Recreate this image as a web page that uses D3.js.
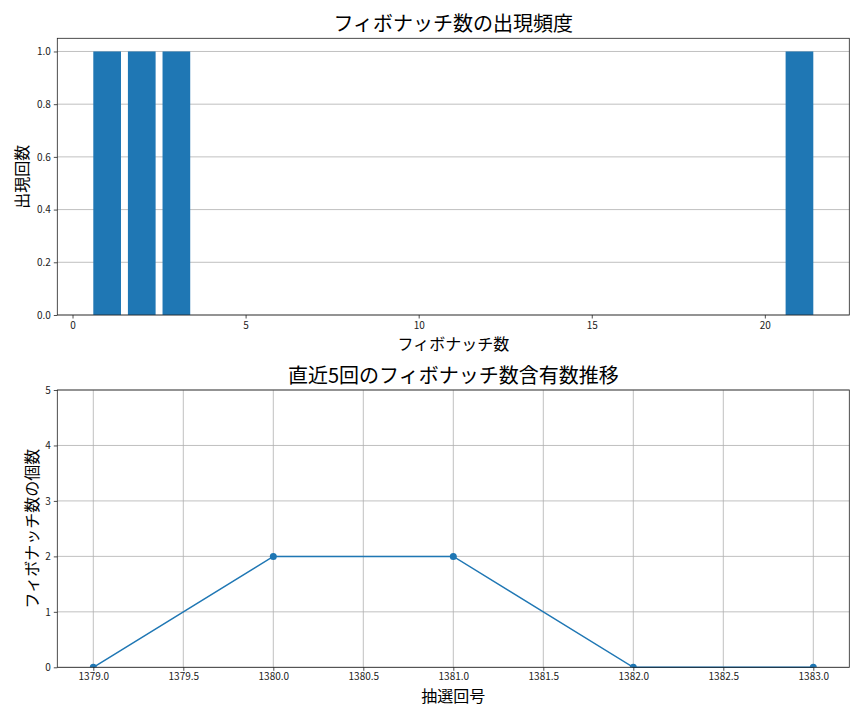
<!DOCTYPE html>
<html>
<head>
<meta charset="utf-8">
<script src="https://cdn.jsdelivr.net/npm/d3@7"></script>
<style>
  body { margin: 0; background: #fff; }
  text { font-family: "Noto Sans CJK JP", "Noto Sans", sans-serif; }
</style>
</head>
<body>
<svg width="864" height="720"></svg>
<script>
// top chart: fibonacci numbers and how often they appeared
var fibNumbers = [1, 2, 3, 21];
var fibCounts = [1, 1, 1, 1];
var barTicks = [0, 5, 10, 15, 20];
var countTicks = [0, 0.2, 0.4, 0.6, 0.8, 1.0];

// bottom chart: last 5 draws
var drawNumbers = [1379, 1380, 1381, 1382, 1383];
var fibPerDraw = [0, 2, 2, 0, 0];
var drawTicks = [1379, 1379.5, 1380, 1380.5, 1381, 1381.5, 1382, 1382.5, 1383];
var perDrawTicks = [0, 1, 2, 3, 4, 5];

var blue = "#1f77b4";
var svg = d3.select("svg");

var left = 57.3, right = 849.3;

// ---------- top ----------
var t = { top: 38.3, bottom: 315 };
var x1 = d3.scaleLinear().domain([-0.44, 22.44]).range([left, right]);
var y1 = d3.scaleLinear().domain([0, 1.05]).range([t.bottom, t.top]);

var g1 = svg.append("g");

g1.selectAll("line.grid")
	.data(countTicks)
	.enter()
	.append("line")
	.attr("class", "grid")
	.attr("x1", left).attr("x2", right)
	.attr("y1", d => y1(d)).attr("y2", d => y1(d))
	.style("stroke", "#b0b0b0").style("stroke-width", 0.8);

g1.selectAll("rect.bar")
	.data(fibNumbers)
	.enter()
	.append("rect")
	.attr("class", "bar")
	.attr("x", d => x1(d - 0.4))
	.attr("width", d => x1(d + 0.4) - x1(d - 0.4))
	.attr("y", (d, i) => y1(fibCounts[i]))
	.attr("height", (d, i) => y1(0) - y1(fibCounts[i]))
	.style("fill", blue);

var xAxis1 = d3.axisBottom(x1).tickValues(barTicks).tickFormat(d3.format("d")).tickSize(3.5).tickPadding(3);
g1.append("g").attr("class", "axis").attr("transform", "translate(0," + t.bottom + ")").call(xAxis1);

var yAxis1 = d3.axisLeft(y1).tickValues(countTicks).tickFormat(d3.format(".1f")).tickSize(3.5).tickPadding(3);
g1.append("g").attr("class", "axis").attr("transform", "translate(" + left + ",0)").call(yAxis1);

g1.append("rect")
	.attr("x", left).attr("y", t.top)
	.attr("width", right - left).attr("height", t.bottom - t.top)
	.style("fill", "none").style("stroke", "#222").style("stroke-width", 0.8);

g1.append("text")
	.attr("x", (left + right) / 2).attr("y", 31)
	.attr("text-anchor", "middle")
	.style("font-size", "20px").style("font-weight", 400)
	.text("フィボナッチ数の出現頻度");

g1.append("text")
	.attr("x", (left + right) / 2).attr("y", 350)
	.attr("text-anchor", "middle")
	.style("font-size", "16px").style("font-weight", 400)
	.text("フィボナッチ数");

g1.append("text")
	.attr("transform", "translate(28," + (t.top + t.bottom) / 2 + ") rotate(-90)")
	.attr("text-anchor", "middle")
	.style("font-size", "16px").style("font-weight", 400)
	.text("出現回数");

// ---------- bottom ----------
var b = { top: 390, bottom: 667.3 };
var x2 = d3.scaleLinear().domain([1378.8, 1383.2]).range([left, right]);
var y2 = d3.scaleLinear().domain([0, 5]).range([b.bottom, b.top]);

var g2 = svg.append("g");

g2.selectAll("line.gx")
	.data(drawTicks)
	.enter()
	.append("line")
	.attr("x1", d => x2(d)).attr("x2", d => x2(d))
	.attr("y1", b.top).attr("y2", b.bottom)
	.style("stroke", "#b0b0b0").style("stroke-width", 0.8);

g2.selectAll("line.gy")
	.data(perDrawTicks)
	.enter()
	.append("line")
	.attr("x1", left).attr("x2", right)
	.attr("y1", d => y2(d)).attr("y2", d => y2(d))
	.style("stroke", "#b0b0b0").style("stroke-width", 0.8);

var line = d3.line()
	.x(d => x2(d))
	.y((d, i) => y2(fibPerDraw[i]));

g2.append("path")
	.datum(drawNumbers)
	.attr("d", line)
	.style("fill", "none").style("stroke", blue).style("stroke-width", 1.5);

g2.append("clipPath").attr("id", "clip2").append("rect")
	.attr("x", left).attr("y", b.top).attr("width", right - left).attr("height", b.bottom - b.top);

g2.append("g").attr("clip-path", "url(#clip2)")
	.selectAll("circle")
	.data(drawNumbers)
	.enter()
	.append("circle")
	.attr("cx", d => x2(d))
	.attr("cy", (d, i) => y2(fibPerDraw[i]))
	.attr("r", 3.5)
	.style("fill", blue);

var xAxis2 = d3.axisBottom(x2).tickValues(drawTicks).tickFormat(d3.format(".1f")).tickSize(3.5).tickPadding(2.5);
g2.append("g").attr("class", "axis").attr("transform", "translate(0," + b.bottom + ")").call(xAxis2);

var yAxis2 = d3.axisLeft(y2).tickValues(perDrawTicks).tickFormat(d3.format("d")).tickSize(3.5).tickPadding(3);
g2.append("g").attr("class", "axis").attr("transform", "translate(" + left + ",0)").call(yAxis2);

g2.append("rect")
	.attr("x", left).attr("y", b.top)
	.attr("width", right - left).attr("height", b.bottom - b.top)
	.style("fill", "none").style("stroke", "#222").style("stroke-width", 0.8);

g2.append("text")
	.attr("x", (left + right) / 2).attr("y", 383)
	.attr("text-anchor", "middle")
	.style("font-size", "20px").style("font-weight", 400)
	.text("直近5回のフィボナッチ数含有数推移");

g2.append("text")
	.attr("x", (left + right) / 2).attr("y", 702)
	.attr("text-anchor", "middle")
	.style("font-size", "16px").style("font-weight", 400)
	.text("抽選回号");

g2.append("text")
	.attr("transform", "translate(38," + (b.top + b.bottom) / 2 + ") rotate(-90)")
	.attr("text-anchor", "middle")
	.style("font-size", "16px").style("font-weight", 400)
	.text("フィボナッチ数の個数");

// axis styling
svg.selectAll(".axis path").remove();
svg.selectAll(".axis line").style("stroke", "#222").style("stroke-width", 0.8);
svg.selectAll(".axis text")
	.style("font-size", "10px")
	.style("fill", "#222")
	.style("font-family", "'Noto Sans CJK JP', sans-serif");
</script>
</body>
</html>
